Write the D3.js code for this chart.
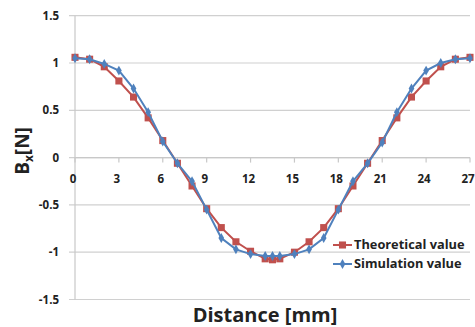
<!DOCTYPE html>
<html>
<head>
<meta charset="utf-8">
<script src="https://cdn.jsdelivr.net/npm/d3@7"></script>
<style>
  body { margin: 0; background: #fff; }
  text { font-family: "Open Sans", "Liberation Sans", sans-serif; font-weight: bold; fill: #222; }
</style>
</head>
<body>
<div id="chart"></div>
<script>
// Distance (mm) sample points
const distance = [0, 1, 2, 3, 4, 5, 6, 7, 8, 9, 10, 11, 12, 13, 13.5, 14, 15, 16, 17, 18, 19, 20, 21, 22, 23, 24, 25, 26, 27];

// Theoretical value
const theoretical = [1.06, 1.04, 0.96, 0.81, 0.64, 0.42, 0.18, -0.06, -0.30, -0.54, -0.74, -0.89, -0.99,
  -1.07, -1.08, -1.07, -1.00, -0.89, -0.74, -0.54, -0.30, -0.06, 0.18, 0.42, 0.64, 0.81, 0.96, 1.04, 1.06];

// Simulation value
const simulation = [1.05, 1.04, 0.99, 0.92, 0.73, 0.48, 0.17, -0.06, -0.25, -0.55, -0.85, -0.97, -1.02,
  -1.04, -1.04, -1.04, -1.02, -0.97, -0.85, -0.55, -0.25, -0.06, 0.16, 0.48, 0.73, 0.92, 1.00, 1.04, 1.05];

const xTicks = [0, 3, 6, 9, 12, 15, 18, 21, 24, 27];
const yTicks = [-1.5, -1, -0.5, 0, 0.5, 1, 1.5];

const width = 475, height = 327;

const svg = d3.select("#chart").append("svg")
    .attr("width", width)
    .attr("height", height);

const x = d3.scaleLinear().domain([0, 27]).range([75, 470]);
const y = d3.scaleLinear().domain([-1.5, 1.5]).range([299.5, 15.7]);

// Horizontal gridlines
svg.append("g")
  .selectAll("line")
  .data(yTicks)
  .enter().append("line")
    .attr("x1", 69).attr("x2", 470)
    .attr("y1", d => y(d)).attr("y2", d => y(d))
    .attr("stroke", "#d0d0d0")
    .attr("stroke-width", 1.2);

// Y axis line
svg.append("line")
  .attr("x1", x(0)).attr("x2", x(0))
  .attr("y1", y(1.5)).attr("y2", y(-1.5))
  .attr("stroke", "#c8c8c8")
  .attr("stroke-width", 1.2);

// Y tick labels
svg.append("g")
  .selectAll("text")
  .data(yTicks)
  .enter().append("text")
    .attr("x", 59)
    .attr("y", d => y(d))
    .attr("dy", "0.35em")
    .attr("text-anchor", "end")
    .style("font-size", "11.5px")
    .text(d => d);

// X axis (at zero) with downward ticks
svg.append("line")
  .attr("x1", x(0)).attr("x2", x(27))
  .attr("y1", y(0)).attr("y2", y(0))
  .attr("stroke", "#c8c8c8")
  .attr("stroke-width", 1.2);

svg.append("g")
  .selectAll("line")
  .data(xTicks)
  .enter().append("line")
    .attr("x1", d => x(d)).attr("x2", d => x(d))
    .attr("y1", y(0)).attr("y2", y(0) + 5)
    .attr("stroke", "#c8c8c8")
    .attr("stroke-width", 1.2);

svg.append("g")
  .selectAll("text")
  .data(xTicks)
  .enter().append("text")
    .attr("x", d => x(d) - 2)
    .attr("y", y(0) + 21)
    .attr("dy", "0.35em")
    .attr("text-anchor", "middle")
    .style("font-size", "11.5px")
    .text(d => d);

// Lines
const line = d3.line()
    .x(d => x(d[0]))
    .y(d => y(d[1]));

const series = [
  {name: "Theoretical value", values: theoretical, color: "#C0504D", marker: "square"},
  {name: "Simulation value", values: simulation, color: "#4F81BD", marker: "diamond"}
];

const markerFor = m => m === "square"
  ? d3.symbol().type(d3.symbolSquare).size(50)
  : d3.symbol().type(d3.symbolDiamond).size(28);

series.forEach(s => {
  const pts = distance.map((d, i) => [d, s.values[i]]);
  svg.append("path")
    .datum(pts)
    .attr("fill", "none")
    .attr("stroke", s.color)
    .attr("stroke-width", 2)
    .attr("d", line);

  svg.append("g")
    .selectAll("path")
    .data(pts)
    .enter().append("path")
      .attr("transform", d => `translate(${x(d[0])},${y(d[1])})`)
      .attr("d", markerFor(s.marker))
      .attr("fill", s.color);
});

// Legend
const legend = svg.append("g");
series.forEach((s, i) => {
  const ly = 245 + i * 19;
  legend.append("line")
    .attr("x1", 333).attr("x2", 352)
    .attr("y1", ly).attr("y2", ly)
    .attr("stroke", s.color)
    .attr("stroke-width", 2);
  legend.append("path")
    .attr("transform", `translate(342.5,${ly})`)
    .attr("d", markerFor(s.marker))
    .attr("fill", s.color);
  legend.append("text")
    .attr("x", 354)
    .attr("y", ly)
    .attr("dy", "0.35em")
    .style("font-size", "12.8px")
    .text(s.name);
});

// Axis titles
svg.append("text")
  .attr("x", 265)
  .attr("y", 322)
  .attr("text-anchor", "middle")
  .style("font-size", "20px")
  .text("Distance [mm]");

const yTitle = svg.append("text")
  .attr("transform", "translate(29,151) rotate(-90)")
  .attr("text-anchor", "middle")
  .style("font-size", "19px");
yTitle.append("tspan").text("B");
yTitle.append("tspan").attr("dy", 4).style("font-size", "12px").text("x");
yTitle.append("tspan").attr("dy", -4).text("[N]");
</script>
</body>
</html>
